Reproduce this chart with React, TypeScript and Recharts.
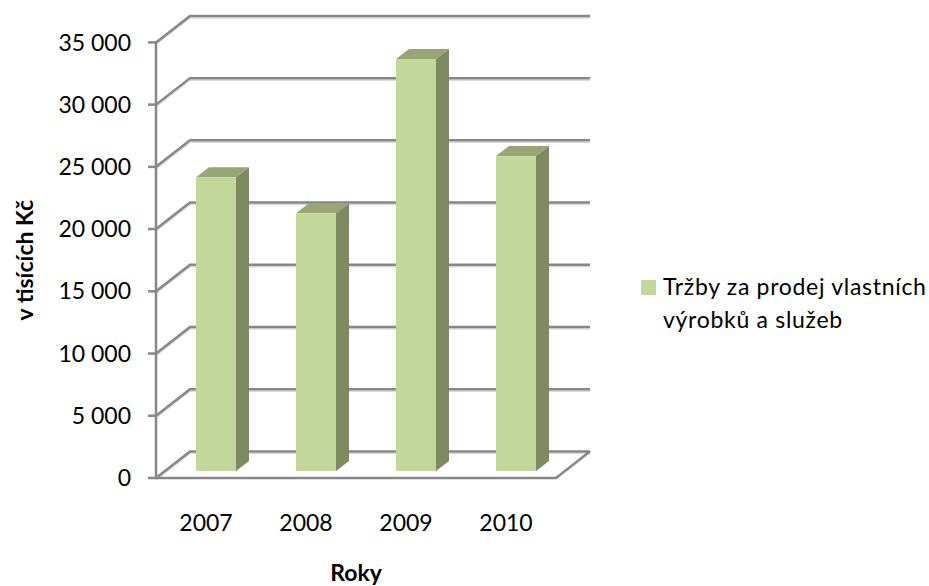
import { BarChart, Bar, XAxis, YAxis, CartesianGrid, ReferenceLine, Legend } from 'recharts';

const years = ['2007', '2008', '2009', '2010'];
const revenue = [23600, 20700, 33100, 25300];
const yTicks = [0, 5000, 10000, 15000, 20000, 25000, 30000, 35000];
const seriesName = 'Tržby za prodej vlastních výrobků a služeb';

const data = years.map((year, i) => ({ year, value: revenue[i] }));

const FONT = 'Lato, "Open Sans", sans-serif';

// perspective offsets: box depth (walls/floor) and bar depth
const DEPTH_X = 34;
const DEPTH_Y = 26.5;
const BAR_DX = 13;
const BAR_DY = 10;
const BAR_SHIFT_X = 10;
const BAR_SHIFT_Y = 7;

const GRID = '#878787';
const GRID_SHADOW = '#dadada';
const FRONT = '#c4d79b';
const TOP = '#98a677';
const SIDE = '#7e8a60';

const fmt = (v: number) => String(v).replace(/\B(?=(\d{3})+(?!\d))/g, ' ');

function Bar3D(props: any) {
  const { x, y, width, height } = props;
  const fx = x + BAR_SHIFT_X;
  const fy = y - BAR_SHIFT_Y;
  const bottom = fy + height;
  const r = fx + width;
  return (
    <g>
      <polygon
        points={`${fx},${fy} ${fx + BAR_DX},${fy - BAR_DY} ${r + BAR_DX},${fy - BAR_DY} ${r},${fy}`}
        fill={TOP}
      />
      <polygon
        points={`${r},${fy} ${r + BAR_DX},${fy - BAR_DY} ${r + BAR_DX},${bottom - BAR_DY} ${r},${bottom}`}
        fill={SIDE}
      />
      <rect x={fx} y={fy} width={width} height={height} fill={FRONT} />
    </g>
  );
}

// each gridline runs up the left wall and along the back wall
function WallLine(props: any) {
  const { x1, y1, x2 } = props;
  const bx = x1 + DEPTH_X;
  const by = y1 - DEPTH_Y;
  const pts = (d: number) => `${x1},${y1 + d} ${bx},${by + d} ${x2 + DEPTH_X},${by + d}`;
  return (
    <g key={props.key}>
      <polyline points={pts(2)} stroke={GRID_SHADOW} strokeWidth={1.5} fill="none" />
      <polyline points={pts(0)} stroke={GRID} strokeWidth={2.5} fill="none" />
    </g>
  );
}

// front and right edge of the floor
function FloorEdge(props: any) {
  const { x1, y1, x2 } = props;
  return (
    <g>
      <polyline
        points={`${x1},${y1} ${x2},${y1} ${x2 + DEPTH_X},${y1 - DEPTH_Y}`}
        stroke={GRID}
        strokeWidth={2.5}
        fill="none"
      />
    </g>
  );
}

function YTitle(props: any) {
  const vb = props.viewBox;
  const cx = vb.x + 24;
  const cy = vb.y + vb.height / 2;
  return (
    <text
      x={cx}
      y={cy}
      transform={`rotate(-90 ${cx} ${cy})`}
      textAnchor="middle"
      dominantBaseline="central"
      fontFamily={FONT}
      fontWeight="bold"
      fontSize={23}
      fill="#000"
    >
      v tisících Kč
    </text>
  );
}

function XTitle(props: any) {
  const vb = props.viewBox;
  return (
    <text
      x={vb.x + vb.width / 2}
      y={vb.y + vb.height - 5.5}
      textAnchor="middle"
      fontFamily={FONT}
      fontWeight="bold"
      fontSize={23}
      fill="#000"
    >
      Roky
    </text>
  );
}

function SeriesLegend() {
  const words = seriesName.split(' ');
  return (
    <div
      style={{
        display: 'flex',
        alignItems: 'flex-start',
        fontFamily: FONT,
        fontSize: 23,
        lineHeight: '33px',
        letterSpacing: '0.7px',
        color: '#000',
      }}
    >
      <span
        style={{ width: 15, height: 15, background: FRONT, marginTop: 10, marginRight: 7, flex: 'none' }}
      />
      <span>
        {words.slice(0, 4).join(' ')}
        <br />
        {words.slice(4).join(' ')}
      </span>
    </div>
  );
}

export default function App() {
  return (
    <div style={{ position: 'absolute', left: 0, top: 0, background: '#fff' }}>
      <BarChart
        width={929}
        height={586}
        data={data}
        barSize={40}
        margin={{ top: 42.4, right: 373, left: 0, bottom: 0 }}
      >
        <CartesianGrid vertical={false} horizontal={WallLine} />
        <XAxis
          dataKey="year"
          axisLine={false}
          tickLine={false}
          tickSize={0}
          tickMargin={37}
          height={108}
          tick={{ fill: '#000', fontSize: 23, fontFamily: FONT }}
          label={XTitle}
        />
        <YAxis
          domain={[0, 35000]}
          ticks={yTicks}
          width={156}
          tickSize={8}
          tickMargin={17}
          tickFormatter={fmt}
          axisLine={{ stroke: GRID, strokeWidth: 2.5 }}
          tickLine={{ stroke: GRID, strokeWidth: 2.5 }}
          tick={{ fill: '#000', fontSize: 23, fontFamily: FONT }}
          label={YTitle}
        />
        <ReferenceLine y={0} shape={FloorEdge} />
        <Legend
          layout="vertical"
          align="center"
          verticalAlign="middle"
          content={SeriesLegend}
          wrapperStyle={{ left: 641, top: 270, width: 288 }}
        />
        <Bar dataKey="value" name={seriesName} shape={Bar3D} isAnimationActive={false} />
      </BarChart>
    </div>
  );
}
